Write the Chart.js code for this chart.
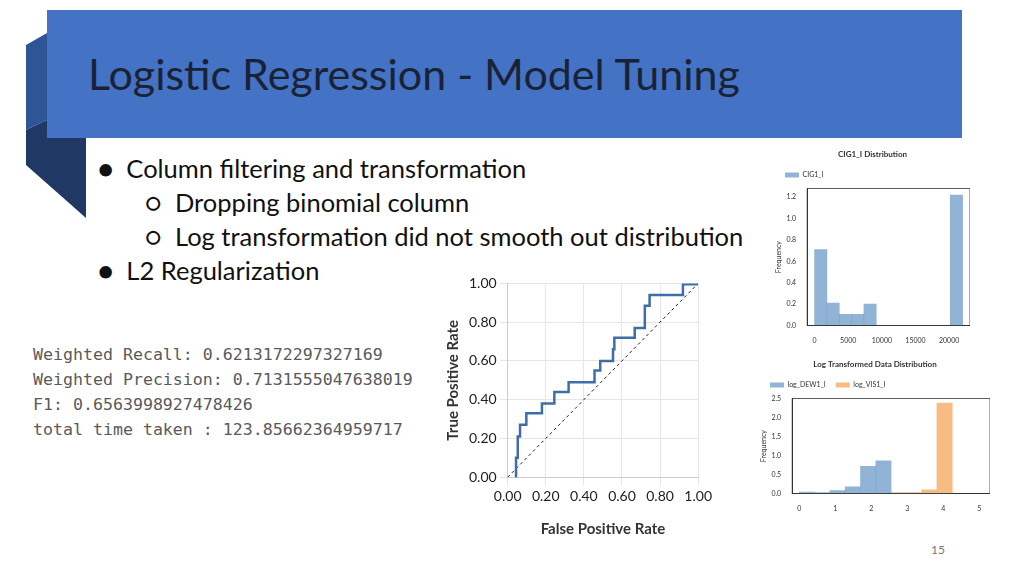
<!DOCTYPE html>
<html><head><meta charset="utf-8">
<script src="https://cdn.jsdelivr.net/npm/chart.js@4"></script>
<style>
body{margin:0;width:1024px;height:576px;background:#fff;position:relative;overflow:hidden;font-family:Lato,"Open Sans",sans-serif}
.abs{position:absolute}
#hdr{left:47px;top:10px;width:915px;height:128px;background:#4472C4}
#title{left:88px;top:48px;font-size:43px;color:#1a2236}
.b{font-size:25.5px;color:#111;white-space:nowrap}
.mono{left:33px;font-family:"DejaVu Sans Mono",monospace;font-size:16.6px;color:#5a5a5a;line-height:25px;top:342px;white-space:pre}
</style></head><body>
<svg class="abs" style="left:0;top:0" width="100" height="230">
<polygon points="26,45 47,33 47,120 26,130" fill="#2F5597"/>
<polygon points="26,130 47,120 47,138 86,138 86,218 26,165" fill="#1F3864"/>
</svg>
<div id="hdr" class="abs"></div>
<div id="title" class="abs">Logistic Regression - Model Tuning</div>
<div class="abs b" style="left:98px;top:153px">●&nbsp;&nbsp;Column filtering and transformation</div>
<div class="abs b" style="left:145px;top:187px">○&nbsp;&nbsp;Dropping binomial column</div>
<div class="abs b" style="left:145px;top:221px">○&nbsp;&nbsp;Log transformation did not smooth out distribution</div>
<div class="abs b" style="left:98px;top:255px">●&nbsp;&nbsp;L2 Regularization</div>
<div class="abs mono">Weighted Recall: 0.6213172297327169
Weighted Precision: 0.7131555047638019
F1: 0.6563998927478426
total time taken : 123.85662364959717</div>
<div class="abs" style="left:440px;top:272px;width:275px;height:270px"><canvas id="roc"></canvas></div>
<div class="abs" style="left:775px;top:148px;width:195px;height:200px"><canvas id="h1"></canvas></div>
<div class="abs" style="left:760px;top:358px;width:230px;height:158px"><canvas id="h2"></canvas></div>
<div class="abs" style="left:931px;top:542px;font-size:12px;color:#777">15</div>
<script>
const rocFpr=[0.01,0.044,0.044,0.053,0.053,0.065,0.065,0.098,0.098,0.18,0.18,0.245,0.245,0.32,0.32,0.456,0.456,0.486,0.486,0.553,0.553,0.56,0.56,0.667,0.667,0.72,0.72,0.745,0.745,0.92,0.92,1.0];
const rocTpr=[-0.01,-0.01,0.1,0.1,0.21,0.21,0.27,0.27,0.33,0.33,0.38,0.38,0.44,0.44,0.49,0.49,0.55,0.55,0.60,0.60,0.66,0.66,0.72,0.72,0.77,0.77,0.885,0.885,0.94,0.94,0.995,0.995];
const rocTicks=['0.00','0.20','0.40','0.60','0.80','1.00'];
const cigCenters=[917,2750,4583,6417,8250,10083,11917,13750,15583,17417,19250,21083];
const cigFreq=[0.71,0.21,0.105,0.105,0.2,0,0,0,0,0,0,1.22];
const cigTicks=[0,5000,10000,15000,20000];
const logCenters=[0.2125,0.6375,1.0625,1.4875,1.9125,2.3375,2.7625,3.1875,3.6125,4.0375];
const dewFreq=[0.04,0.03,0.08,0.18,0.72,0.86,0,0,0,0];
const visFreq=[0,0,0,0,0,0,0.03,0.03,0.1,2.38];
const logTicks=[0,1,2,3,4,5];

Chart.defaults.animation=false;
Chart.defaults.font.family="Lato, 'Open Sans', sans-serif";
const grid={color:'#e6e6e6'};
const frame={id:'frame',afterDraw(c){const a=c.chartArea,x=c.ctx;x.save();x.strokeStyle='#333';x.lineWidth=0.8;x.strokeRect(a.left,a.top,a.right-a.left,a.bottom-a.top);x.restore();}};
new Chart(document.getElementById('roc'),{type:'scatter',
 data:{datasets:[
  {data:rocFpr.map((x,i)=>({x,y:rocTpr[i]})),showLine:true,borderColor:'#3d6ea8',borderWidth:2.5,pointRadius:0},
  {data:[{x:0,y:0},{x:1,y:1}],showLine:true,borderColor:'#222',borderWidth:1,borderDash:[3,3],pointRadius:0}]},
 options:{responsive:true,maintainAspectRatio:false,plugins:{legend:{display:false}},
  layout:{padding:{right:14}},
  scales:{
   x:{min:0,max:1,grid,border:{color:'#ccc'},ticks:{stepSize:0.2,font:{size:14},color:'#222',callback:v=>rocTicks[Math.round(v*5)]},
      title:{display:true,text:'False Positive Rate',font:{size:15,weight:'bold'},color:'#333',padding:{top:12}}},
   y:{min:0,max:1,grid,border:{color:'#ccc'},ticks:{stepSize:0.2,font:{size:14},color:'#222',callback:v=>rocTicks[Math.round(v*5)]},
      title:{display:true,text:'True Positive Rate',font:{size:15,weight:'bold'},color:'#333'}}}}});

function hist(id,title,centers,sets,ymax,ystep,xmin,xmax,xticks,fs){
 new Chart(document.getElementById(id),{type:'bar',plugins:[frame],data:{datasets:sets.map(s=>({label:s[0],data:s[1].map((y,i)=>({x:centers[i],y})),backgroundColor:s[2],barPercentage:1,categoryPercentage:1,borderWidth:0,grouped:false}))},
 options:{responsive:true,maintainAspectRatio:false,
  plugins:{legend:{position:'top',align:'start',labels:{boxWidth:14,boxHeight:5,font:{size:fs},color:'#333'}},title:{display:true,text:title,font:{size:fs+1},color:'#333',padding:2}},
  scales:{
   x:{type:'linear',min:xmin,max:xmax,offset:false,grid:{display:false},border:{color:'#333'},
      afterBuildTicks:a=>{a.ticks=xticks.map(v=>({value:v}));},ticks:{font:{size:fs},color:'#333',callback:v=>String(v)}},
   y:{min:0,max:ymax,grid:{display:false},border:{color:'#333'},afterBuildTicks:a=>{a.ticks=a.ticks.filter(t=>Math.abs(t.value/ystep-Math.round(t.value/ystep))<1e-6);},
      ticks:{stepSize:ystep,font:{size:fs},color:'#333',callback:v=>v.toFixed(1)},
      title:{display:true,text:'Frequency',font:{size:fs},color:'#333',padding:0}}}}});
}
hist('h1','CIG1_I Distribution',cigCenters,[['CIG1_I',cigFreq,'rgba(116,160,204,0.8)']],1.28,0.2,-1100,23100,cigTicks,7);
hist('h2','Log Transformed Data Distribution',logCenters,[['log_DEW1_I',dewFreq,'rgba(116,160,204,0.8)'],['log_VIS1_I',visFreq,'rgba(245,176,110,0.85)']],2.5,0.5,-0.2,5.3,logTicks,7);
</script>
</body></html>
